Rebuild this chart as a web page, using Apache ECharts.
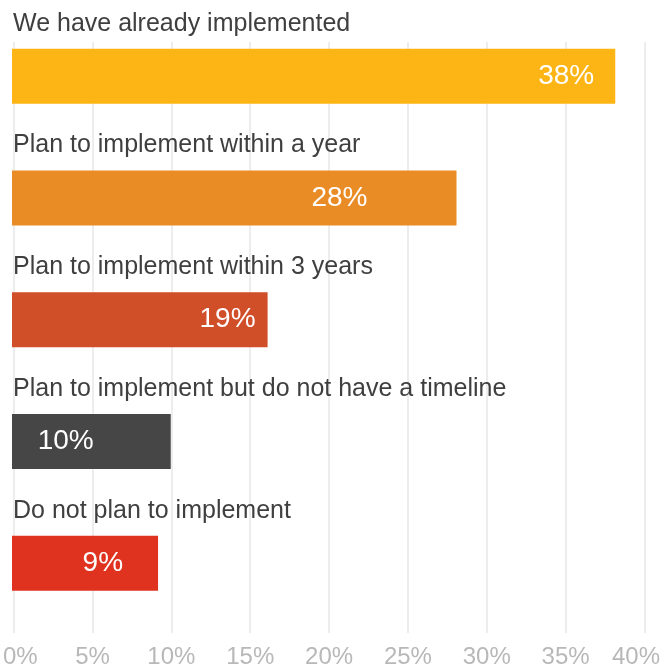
<!DOCTYPE html>
<html>
<head>
<meta charset="utf-8">
<script src="https://cdn.jsdelivr.net/npm/echarts@6/dist/echarts.min.js"></script>
<style>
  html, body { margin: 0; padding: 0; background: #ffffff; }
  #chart { width: 663px; height: 669px; }
</style>
</head>
<body>
<div id="chart"></div>
<script>
// ---- Data ----
const categories = [
  'We have already implemented',
  'Plan to implement within a year',
  'Plan to implement within 3 years',
  'Plan to implement but do not have a timeline',
  'Do not plan to implement'
];
// bar lengths as drawn in the picture (percent)
const barValues = [38, 28, 16.1, 10, 9.2];
// value labels printed on the bars
const valueLabels = ['38%', '28%', '19%', '10%', '9%'];
const barColors = ['#FDB415', '#EA8C25', '#D04E28', '#464646', '#E0331F'];
const axisMin = 0, axisMax = 40, axisStep = 5;

// ---- Styling (kept separate from data) ----
const labelOffsets = [[-21, 0], [-89, 0], [-12, 0], [-77, 0], [-35, 0]];
const FONT = '"Liberation Sans", Arial, Helvetica, sans-serif';

const chart = echarts.init(document.getElementById('chart'), null, { renderer: 'canvas' });

const seriesData = barValues.map((v, i) => ({
  value: v,
  itemStyle: { color: barColors[i] },
  label: { formatter: valueLabels[i], offset: labelOffsets[i] }
}));

const option = {
  backgroundColor: '#ffffff',
  animation: false,
  grid: [
    { left: 12, right: 16, top: 15.4, bottom: 44.9, containLabel: false },
    { left: 12, right: 16, top: 42, bottom: 35, containLabel: false }
  ],
  xAxis: [
    { type: 'value', gridIndex: 0, min: axisMin, max: axisMax, interval: axisStep, show: false },
    {
      type: 'value', gridIndex: 1, min: axisMin, max: axisMax, interval: axisStep,
      axisLine: { show: false }, axisTick: { show: false },
      splitLine: { show: true, lineStyle: { color: '#ededed', width: 2 } },
      axisLabel: {
        margin: 12,
        color: '#b8b8b8',
        fontFamily: FONT,
        fontSize: 24,
        formatter: function (v) {
          if (v === axisMin) return '{l|' + v + '%}';
          if (v === axisMax) return '{r|' + v + '%}';
          return v + '%';
        },
        rich: {
          l: { width: 48, align: 'right', color: '#b8b8b8', fontFamily: FONT, fontSize: 24 },
          r: { width: 65, align: 'left', color: '#b8b8b8', fontFamily: FONT, fontSize: 24 }
        }
      }
    }
  ],
  yAxis: [
    {
      type: 'category', gridIndex: 0, data: categories, inverse: true, z: 5,
      axisLine: { show: false }, axisTick: { show: false }, splitLine: { show: false },
      axisLabel: {
        inside: true,
        margin: 1,
        align: 'left',
        verticalAlign: 'bottom',
        lineHeight: 25,
        padding: [0, 0, 40, 0],
        color: '#3f3f3f',
        fontFamily: FONT,
        fontSize: 25
      }
    },
    { type: 'value', gridIndex: 1, show: false, min: 0, max: 1 }
  ],
  series: [
    {
      type: 'bar',
      xAxisIndex: 0,
      yAxisIndex: 0,
      data: seriesData,
      barWidth: 55,
      z: 3,
      label: {
        show: true,
        position: 'insideRight',
        distance: 0,
        color: '#ffffff',
        fontFamily: FONT,
        fontSize: 28
      }
    }
  ]
};

chart.setOption(option);
</script>
</body>
</html>
